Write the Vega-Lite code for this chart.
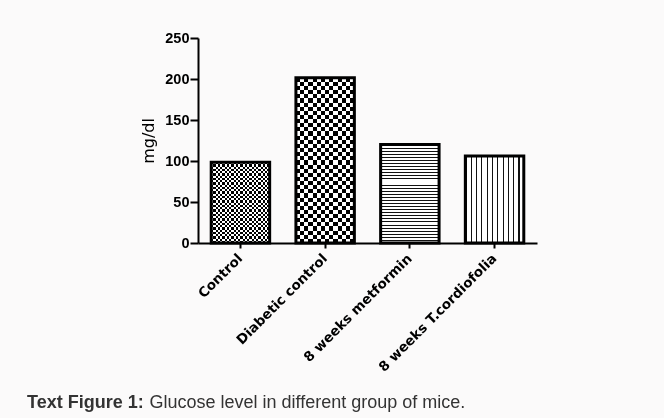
{
  "$schema": "https://vega.github.io/schema/vega-lite/v6.json",
  "width": 339,
  "height": 205,
  "autosize": {"type": "none"},
  "padding": {"left": 198, "top": 38, "right": 127, "bottom": 175},
  "background": "#fbfafa",
  "config": {"view": {"stroke": null}},
  "title": {"text": "Text Figure 1:", "orient": "top", "anchor": "start", "frame": "group", "font": "Liberation Sans", "fontSize": 18, "fontWeight": "bold", "color": "#333333", "baseline": "alphabetic", "offset": 0, "dx": -171, "dy": 396},
  "data": {"values": [
    {"group": "Control", "glucose": 98.5},
    {"group": "Diabetic control", "glucose": 201.5},
    {"group": "8 weeks metformin", "glucose": 120},
    {"group": "8 weeks T.cordiofolia", "glucose": 106}
  ]},
  "encoding": {
    "x": {"field": "group", "type": "nominal", "sort": null,
      "scale": {"domain": ["Control", "Diabetic control", "8 weeks metformin", "8 weeks T.cordiofolia"], "paddingInner": 0.31, "paddingOuter": 0.156},
      "axis": {"title": "Glucose level in different group of mice.", "titleX": -49, "titleY": 164, "titleAlign": "left", "titleAnchor": "start", "titleBaseline": "alphabetic", "titleFont": "Liberation Sans", "titleFontSize": 18, "titleFontWeight": "normal", "titleColor": "#333333",
        "labelAngle": -45, "labelAlign": "right", "labelBaseline": "middle", "labelPadding": 8, "labelFont": "DejaVu Sans", "labelFontWeight": "bold", "labelFontSize": 13.5, "labelColor": "#000000",
        "domainColor": "#000000", "domainWidth": 2, "tickColor": "#000000", "tickWidth": 2, "tickSize": 5, "grid": false}},
    "y": {"field": "glucose", "type": "quantitative",
      "scale": {"domain": [0, 250], "nice": false},
      "axis": {"title": "mg/dl", "titleFont": "DejaVu Sans", "titleFontSize": 16, "titleFontWeight": "normal", "titleColor": "#000000", "titlePadding": 8,
        "values": [0, 50, 100, 150, 200, 250], "labelFont": "Liberation Sans", "labelFontWeight": "bold", "labelFontSize": 14.5, "labelColor": "#000000", "labelPadding": 1,
        "domainColor": "#000000", "domainWidth": 2, "tickColor": "#000000", "tickWidth": 2, "tickSize": 8, "grid": false}}
  },
  "layer": [
    {"transform": [{"filter": "datum.group === 'Control'"}],
     "mark": {"type": "bar", "fill": {"gradient": "linear", "x1": 0, "y1": 0, "x2": 1, "y2": 0, "stops": [
      {"offset":0,"color":"#000"},{"offset":0.0385,"color":"#000"},{"offset":0.0385,"color":"#fff"},{"offset":0.0769,"color":"#fff"},
      {"offset":0.0769,"color":"#000"},{"offset":0.1154,"color":"#000"},{"offset":0.1154,"color":"#fff"},{"offset":0.1538,"color":"#fff"},
      {"offset":0.1538,"color":"#000"},{"offset":0.1923,"color":"#000"},{"offset":0.1923,"color":"#fff"},{"offset":0.2308,"color":"#fff"},
      {"offset":0.2308,"color":"#000"},{"offset":0.2692,"color":"#000"},{"offset":0.2692,"color":"#fff"},{"offset":0.3077,"color":"#fff"},
      {"offset":0.3077,"color":"#000"},{"offset":0.3462,"color":"#000"},{"offset":0.3462,"color":"#fff"},{"offset":0.3846,"color":"#fff"},
      {"offset":0.3846,"color":"#000"},{"offset":0.4231,"color":"#000"},{"offset":0.4231,"color":"#fff"},{"offset":0.4615,"color":"#fff"},
      {"offset":0.4615,"color":"#000"},{"offset":0.5,"color":"#000"},{"offset":0.5,"color":"#fff"},{"offset":0.5385,"color":"#fff"},
      {"offset":0.5385,"color":"#000"},{"offset":0.5769,"color":"#000"},{"offset":0.5769,"color":"#fff"},{"offset":0.6154,"color":"#fff"},
      {"offset":0.6154,"color":"#000"},{"offset":0.6538,"color":"#000"},{"offset":0.6538,"color":"#fff"},{"offset":0.6923,"color":"#fff"},
      {"offset":0.6923,"color":"#000"},{"offset":0.7308,"color":"#000"},{"offset":0.7308,"color":"#fff"},{"offset":0.7692,"color":"#fff"},
      {"offset":0.7692,"color":"#000"},{"offset":0.8077,"color":"#000"},{"offset":0.8077,"color":"#fff"},{"offset":0.8462,"color":"#fff"},
      {"offset":0.8462,"color":"#000"},{"offset":0.8846,"color":"#000"},{"offset":0.8846,"color":"#fff"},{"offset":0.9231,"color":"#fff"},
      {"offset":0.9231,"color":"#000"},{"offset":0.9615,"color":"#000"},{"offset":0.9615,"color":"#fff"},{"offset":1,"color":"#fff"}]}}},
    {"transform": [{"filter": "datum.group === 'Control'"}],
     "mark": {"type": "bar", "blend": "difference", "fill": {"gradient": "linear", "x1": 0, "y1": 0, "x2": 0, "y2": 1, "stops": [
      {"offset":0,"color":"#000"},{"offset":0.0278,"color":"#000"},{"offset":0.0278,"color":"#fff"},{"offset":0.0556,"color":"#fff"},
      {"offset":0.0556,"color":"#000"},{"offset":0.0833,"color":"#000"},{"offset":0.0833,"color":"#fff"},{"offset":0.1111,"color":"#fff"},
      {"offset":0.1111,"color":"#000"},{"offset":0.1389,"color":"#000"},{"offset":0.1389,"color":"#fff"},{"offset":0.1667,"color":"#fff"},
      {"offset":0.1667,"color":"#000"},{"offset":0.1944,"color":"#000"},{"offset":0.1944,"color":"#fff"},{"offset":0.2222,"color":"#fff"},
      {"offset":0.2222,"color":"#000"},{"offset":0.25,"color":"#000"},{"offset":0.25,"color":"#fff"},{"offset":0.2778,"color":"#fff"},
      {"offset":0.2778,"color":"#000"},{"offset":0.3056,"color":"#000"},{"offset":0.3056,"color":"#fff"},{"offset":0.3333,"color":"#fff"},
      {"offset":0.3333,"color":"#000"},{"offset":0.3611,"color":"#000"},{"offset":0.3611,"color":"#fff"},{"offset":0.3889,"color":"#fff"},
      {"offset":0.3889,"color":"#000"},{"offset":0.4167,"color":"#000"},{"offset":0.4167,"color":"#fff"},{"offset":0.4444,"color":"#fff"},
      {"offset":0.4444,"color":"#000"},{"offset":0.4722,"color":"#000"},{"offset":0.4722,"color":"#fff"},{"offset":0.5,"color":"#fff"},
      {"offset":0.5,"color":"#000"},{"offset":0.5278,"color":"#000"},{"offset":0.5278,"color":"#fff"},{"offset":0.5556,"color":"#fff"},
      {"offset":0.5556,"color":"#000"},{"offset":0.5833,"color":"#000"},{"offset":0.5833,"color":"#fff"},{"offset":0.6111,"color":"#fff"},
      {"offset":0.6111,"color":"#000"},{"offset":0.6389,"color":"#000"},{"offset":0.6389,"color":"#fff"},{"offset":0.6667,"color":"#fff"},
      {"offset":0.6667,"color":"#000"},{"offset":0.6944,"color":"#000"},{"offset":0.6944,"color":"#fff"},{"offset":0.7222,"color":"#fff"},
      {"offset":0.7222,"color":"#000"},{"offset":0.75,"color":"#000"},{"offset":0.75,"color":"#fff"},{"offset":0.7778,"color":"#fff"},
      {"offset":0.7778,"color":"#000"},{"offset":0.8056,"color":"#000"},{"offset":0.8056,"color":"#fff"},{"offset":0.8333,"color":"#fff"},
      {"offset":0.8333,"color":"#000"},{"offset":0.8611,"color":"#000"},{"offset":0.8611,"color":"#fff"},{"offset":0.8889,"color":"#fff"},
      {"offset":0.8889,"color":"#000"},{"offset":0.9167,"color":"#000"},{"offset":0.9167,"color":"#fff"},{"offset":0.9444,"color":"#fff"},
      {"offset":0.9444,"color":"#000"},{"offset":0.9722,"color":"#000"},{"offset":0.9722,"color":"#fff"},{"offset":1,"color":"#fff"}]}}},
    {"transform": [{"filter": "datum.group === 'Diabetic control'"}],
     "mark": {"type": "bar", "fill": {"gradient": "linear", "x1": 0, "y1": 0, "x2": 1, "y2": 0, "stops": [
      {"offset":0,"color":"#000"},{"offset":0.0714,"color":"#000"},{"offset":0.0714,"color":"#fff"},{"offset":0.1429,"color":"#fff"},
      {"offset":0.1429,"color":"#000"},{"offset":0.2143,"color":"#000"},{"offset":0.2143,"color":"#fff"},{"offset":0.2857,"color":"#fff"},
      {"offset":0.2857,"color":"#000"},{"offset":0.3571,"color":"#000"},{"offset":0.3571,"color":"#fff"},{"offset":0.4286,"color":"#fff"},
      {"offset":0.4286,"color":"#000"},{"offset":0.5,"color":"#000"},{"offset":0.5,"color":"#fff"},{"offset":0.5714,"color":"#fff"},
      {"offset":0.5714,"color":"#000"},{"offset":0.6429,"color":"#000"},{"offset":0.6429,"color":"#fff"},{"offset":0.7143,"color":"#fff"},
      {"offset":0.7143,"color":"#000"},{"offset":0.7857,"color":"#000"},{"offset":0.7857,"color":"#fff"},{"offset":0.8571,"color":"#fff"},
      {"offset":0.8571,"color":"#000"},{"offset":0.9286,"color":"#000"},{"offset":0.9286,"color":"#fff"},{"offset":1,"color":"#fff"}]}}},
    {"transform": [{"filter": "datum.group === 'Diabetic control'"}],
     "mark": {"type": "bar", "blend": "difference", "fill": {"gradient": "linear", "x1": 0, "y1": 0, "x2": 0, "y2": 1, "stops": [
      {"offset":0,"color":"#000"},{"offset":0.025,"color":"#000"},{"offset":0.025,"color":"#fff"},{"offset":0.05,"color":"#fff"},
      {"offset":0.05,"color":"#000"},{"offset":0.075,"color":"#000"},{"offset":0.075,"color":"#fff"},{"offset":0.1,"color":"#fff"},
      {"offset":0.1,"color":"#000"},{"offset":0.125,"color":"#000"},{"offset":0.125,"color":"#fff"},{"offset":0.15,"color":"#fff"},
      {"offset":0.15,"color":"#000"},{"offset":0.175,"color":"#000"},{"offset":0.175,"color":"#fff"},{"offset":0.2,"color":"#fff"},
      {"offset":0.2,"color":"#000"},{"offset":0.225,"color":"#000"},{"offset":0.225,"color":"#fff"},{"offset":0.25,"color":"#fff"},
      {"offset":0.25,"color":"#000"},{"offset":0.275,"color":"#000"},{"offset":0.275,"color":"#fff"},{"offset":0.3,"color":"#fff"},
      {"offset":0.3,"color":"#000"},{"offset":0.325,"color":"#000"},{"offset":0.325,"color":"#fff"},{"offset":0.35,"color":"#fff"},
      {"offset":0.35,"color":"#000"},{"offset":0.375,"color":"#000"},{"offset":0.375,"color":"#fff"},{"offset":0.4,"color":"#fff"},
      {"offset":0.4,"color":"#000"},{"offset":0.425,"color":"#000"},{"offset":0.425,"color":"#fff"},{"offset":0.45,"color":"#fff"},
      {"offset":0.45,"color":"#000"},{"offset":0.475,"color":"#000"},{"offset":0.475,"color":"#fff"},{"offset":0.5,"color":"#fff"},
      {"offset":0.5,"color":"#000"},{"offset":0.525,"color":"#000"},{"offset":0.525,"color":"#fff"},{"offset":0.55,"color":"#fff"},
      {"offset":0.55,"color":"#000"},{"offset":0.575,"color":"#000"},{"offset":0.575,"color":"#fff"},{"offset":0.6,"color":"#fff"},
      {"offset":0.6,"color":"#000"},{"offset":0.625,"color":"#000"},{"offset":0.625,"color":"#fff"},{"offset":0.65,"color":"#fff"},
      {"offset":0.65,"color":"#000"},{"offset":0.675,"color":"#000"},{"offset":0.675,"color":"#fff"},{"offset":0.7,"color":"#fff"},
      {"offset":0.7,"color":"#000"},{"offset":0.725,"color":"#000"},{"offset":0.725,"color":"#fff"},{"offset":0.75,"color":"#fff"},
      {"offset":0.75,"color":"#000"},{"offset":0.775,"color":"#000"},{"offset":0.775,"color":"#fff"},{"offset":0.8,"color":"#fff"},
      {"offset":0.8,"color":"#000"},{"offset":0.825,"color":"#000"},{"offset":0.825,"color":"#fff"},{"offset":0.85,"color":"#fff"},
      {"offset":0.85,"color":"#000"},{"offset":0.875,"color":"#000"},{"offset":0.875,"color":"#fff"},{"offset":0.9,"color":"#fff"},
      {"offset":0.9,"color":"#000"},{"offset":0.925,"color":"#000"},{"offset":0.925,"color":"#fff"},{"offset":0.95,"color":"#fff"},
      {"offset":0.95,"color":"#000"},{"offset":0.975,"color":"#000"},{"offset":0.975,"color":"#fff"},{"offset":1,"color":"#fff"}]}}},
    {"transform": [{"filter": "datum.group === '8 weeks metformin'"}],
     "mark": {"type": "bar", "fill": {"gradient": "linear", "x1": 0, "y1": 0, "x2": 0, "y2": 1, "stops": [
      {"offset":0,"color":"#111"},{"offset":0.01,"color":"#111"},{"offset":0.01,"color":"#fff"},{"offset":0.03125,"color":"#fff"},
      {"offset":0.03125,"color":"#111"},{"offset":0.04125,"color":"#111"},{"offset":0.04125,"color":"#fff"},{"offset":0.0625,"color":"#fff"},
      {"offset":0.0625,"color":"#111"},{"offset":0.0725,"color":"#111"},{"offset":0.0725,"color":"#fff"},{"offset":0.09375,"color":"#fff"},
      {"offset":0.09375,"color":"#111"},{"offset":0.10375,"color":"#111"},{"offset":0.10375,"color":"#fff"},{"offset":0.125,"color":"#fff"},
      {"offset":0.125,"color":"#111"},{"offset":0.135,"color":"#111"},{"offset":0.135,"color":"#fff"},{"offset":0.15625,"color":"#fff"},
      {"offset":0.15625,"color":"#111"},{"offset":0.16625,"color":"#111"},{"offset":0.16625,"color":"#fff"},{"offset":0.1875,"color":"#fff"},
      {"offset":0.1875,"color":"#111"},{"offset":0.1975,"color":"#111"},{"offset":0.1975,"color":"#fff"},{"offset":0.21875,"color":"#fff"},
      {"offset":0.21875,"color":"#111"},{"offset":0.22875,"color":"#111"},{"offset":0.22875,"color":"#fff"},{"offset":0.25,"color":"#fff"},
      {"offset":0.25,"color":"#111"},{"offset":0.26,"color":"#111"},{"offset":0.26,"color":"#fff"},{"offset":0.28125,"color":"#fff"},
      {"offset":0.28125,"color":"#111"},{"offset":0.29125,"color":"#111"},{"offset":0.29125,"color":"#fff"},{"offset":0.3125,"color":"#fff"},
      {"offset":0.3125,"color":"#111"},{"offset":0.3225,"color":"#111"},{"offset":0.3225,"color":"#fff"},{"offset":0.34375,"color":"#fff"},
      {"offset":0.34375,"color":"#111"},{"offset":0.35375,"color":"#111"},{"offset":0.35375,"color":"#fff"},{"offset":0.375,"color":"#fff"},
      {"offset":0.375,"color":"#111"},{"offset":0.385,"color":"#111"},{"offset":0.385,"color":"#fff"},{"offset":0.40625,"color":"#fff"},
      {"offset":0.40625,"color":"#111"},{"offset":0.41625,"color":"#111"},{"offset":0.41625,"color":"#fff"},{"offset":0.4375,"color":"#fff"},
      {"offset":0.4375,"color":"#111"},{"offset":0.4475,"color":"#111"},{"offset":0.4475,"color":"#fff"},{"offset":0.46875,"color":"#fff"},
      {"offset":0.46875,"color":"#111"},{"offset":0.47875,"color":"#111"},{"offset":0.47875,"color":"#fff"},{"offset":0.5,"color":"#fff"},
      {"offset":0.5,"color":"#111"},{"offset":0.51,"color":"#111"},{"offset":0.51,"color":"#fff"},{"offset":0.53125,"color":"#fff"},
      {"offset":0.53125,"color":"#111"},{"offset":0.54125,"color":"#111"},{"offset":0.54125,"color":"#fff"},{"offset":0.5625,"color":"#fff"},
      {"offset":0.5625,"color":"#111"},{"offset":0.5725,"color":"#111"},{"offset":0.5725,"color":"#fff"},{"offset":0.59375,"color":"#fff"},
      {"offset":0.59375,"color":"#111"},{"offset":0.60375,"color":"#111"},{"offset":0.60375,"color":"#fff"},{"offset":0.625,"color":"#fff"},
      {"offset":0.625,"color":"#111"},{"offset":0.635,"color":"#111"},{"offset":0.635,"color":"#fff"},{"offset":0.65625,"color":"#fff"},
      {"offset":0.65625,"color":"#111"},{"offset":0.66625,"color":"#111"},{"offset":0.66625,"color":"#fff"},{"offset":0.6875,"color":"#fff"},
      {"offset":0.6875,"color":"#111"},{"offset":0.6975,"color":"#111"},{"offset":0.6975,"color":"#fff"},{"offset":0.71875,"color":"#fff"},
      {"offset":0.71875,"color":"#111"},{"offset":0.72875,"color":"#111"},{"offset":0.72875,"color":"#fff"},{"offset":0.75,"color":"#fff"},
      {"offset":0.75,"color":"#111"},{"offset":0.76,"color":"#111"},{"offset":0.76,"color":"#fff"},{"offset":0.78125,"color":"#fff"},
      {"offset":0.78125,"color":"#111"},{"offset":0.79125,"color":"#111"},{"offset":0.79125,"color":"#fff"},{"offset":0.8125,"color":"#fff"},
      {"offset":0.8125,"color":"#111"},{"offset":0.8225,"color":"#111"},{"offset":0.8225,"color":"#fff"},{"offset":0.84375,"color":"#fff"},
      {"offset":0.84375,"color":"#111"},{"offset":0.85375,"color":"#111"},{"offset":0.85375,"color":"#fff"},{"offset":0.875,"color":"#fff"},
      {"offset":0.875,"color":"#111"},{"offset":0.885,"color":"#111"},{"offset":0.885,"color":"#fff"},{"offset":0.90625,"color":"#fff"},
      {"offset":0.90625,"color":"#111"},{"offset":0.91625,"color":"#111"},{"offset":0.91625,"color":"#fff"},{"offset":0.9375,"color":"#fff"},
      {"offset":0.9375,"color":"#111"},{"offset":0.9475,"color":"#111"},{"offset":0.9475,"color":"#fff"},{"offset":0.96875,"color":"#fff"},
      {"offset":0.96875,"color":"#111"},{"offset":0.97875,"color":"#111"},{"offset":0.97875,"color":"#fff"},{"offset":1,"color":"#fff"}]}}},
    {"transform": [{"filter": "datum.group === '8 weeks T.cordiofolia'"}],
     "mark": {"type": "bar", "fill": {"gradient": "linear", "x1": 0, "y1": 0, "x2": 1, "y2": 0, "stops": [
      {"offset":0,"color":"#111"},{"offset":0.02,"color":"#111"},{"offset":0.02,"color":"#fff"},{"offset":0.0909,"color":"#fff"},
      {"offset":0.0909,"color":"#111"},{"offset":0.1109,"color":"#111"},{"offset":0.1109,"color":"#fff"},{"offset":0.1818,"color":"#fff"},
      {"offset":0.1818,"color":"#111"},{"offset":0.2018,"color":"#111"},{"offset":0.2018,"color":"#fff"},{"offset":0.2727,"color":"#fff"},
      {"offset":0.2727,"color":"#111"},{"offset":0.2927,"color":"#111"},{"offset":0.2927,"color":"#fff"},{"offset":0.3636,"color":"#fff"},
      {"offset":0.3636,"color":"#111"},{"offset":0.3836,"color":"#111"},{"offset":0.3836,"color":"#fff"},{"offset":0.4545,"color":"#fff"},
      {"offset":0.4545,"color":"#111"},{"offset":0.4745,"color":"#111"},{"offset":0.4745,"color":"#fff"},{"offset":0.5455,"color":"#fff"},
      {"offset":0.5455,"color":"#111"},{"offset":0.5655,"color":"#111"},{"offset":0.5655,"color":"#fff"},{"offset":0.6364,"color":"#fff"},
      {"offset":0.6364,"color":"#111"},{"offset":0.6564,"color":"#111"},{"offset":0.6564,"color":"#fff"},{"offset":0.7273,"color":"#fff"},
      {"offset":0.7273,"color":"#111"},{"offset":0.7473,"color":"#111"},{"offset":0.7473,"color":"#fff"},{"offset":0.8182,"color":"#fff"},
      {"offset":0.8182,"color":"#111"},{"offset":0.8382,"color":"#111"},{"offset":0.8382,"color":"#fff"},{"offset":0.9091,"color":"#fff"},
      {"offset":0.9091,"color":"#111"},{"offset":0.9291,"color":"#111"},{"offset":0.9291,"color":"#fff"},{"offset":1,"color":"#fff"}]}}},
    {"mark": {"type": "bar", "fill": "#ffffff", "fillOpacity": 0, "stroke": "#000000", "strokeWidth": 3}}
  ]
}
